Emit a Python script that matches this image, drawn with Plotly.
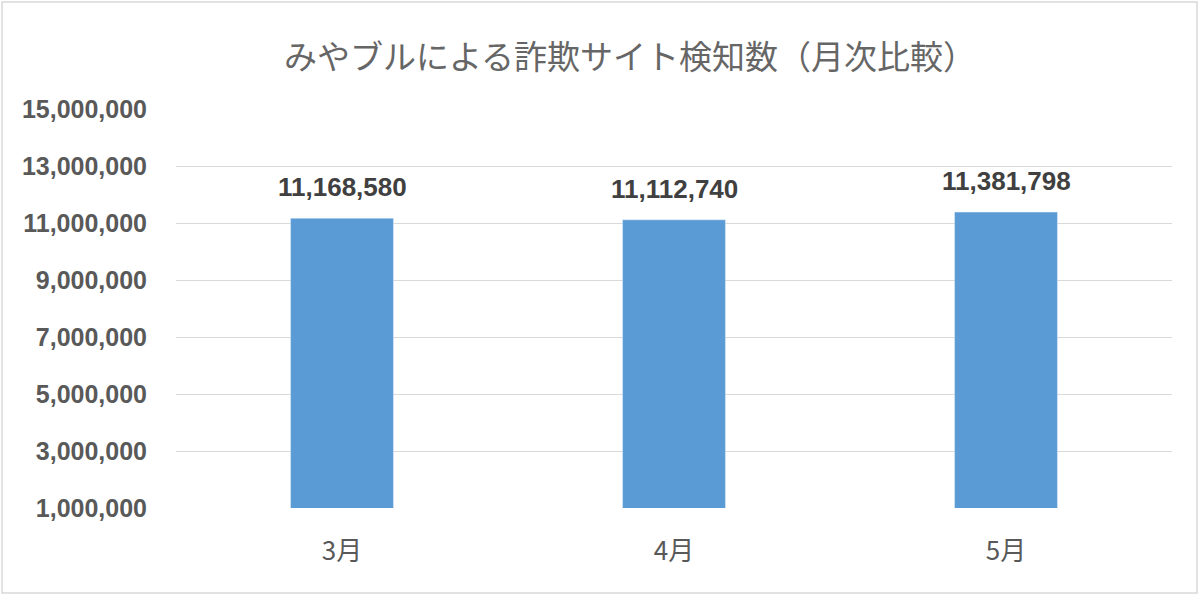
import plotly.graph_objects as go

# Monthly counts of fraud sites detected
months = ["3月", "4月", "5月"]
detections = [11168580, 11112740, 11381798]

TITLE = "みやブルによる詐欺サイト検知数（月次比較）"
FONT = "Noto Sans CJK JP"

fig = go.Figure()
fig.add_trace(go.Bar(
    x=months,
    y=detections,
    marker_color="#5B9BD5",
    width=0.31,
))

# data labels above each bar
for m, v in zip(months, detections):
    fig.add_annotation(
        x=m, y=v, text=f"{v:,}",
        showarrow=False, yanchor="bottom", yshift=14,
        font=dict(family="Liberation Sans", size=26, color="#404040", weight="bold"),
    )

fig.update_layout(
    width=1200,
    height=595,
    paper_bgcolor="white",
    plot_bgcolor="white",
    showlegend=False,
    margin=dict(l=176, r=28, t=109, b=87),
    title=dict(
        text=TITLE,
        x=0.525, xanchor="center",
        y=0.904, yanchor="middle",
        font=dict(family=FONT, size=33, color="#666666"),
    ),
    xaxis=dict(
        showgrid=False,
        showline=False,
        ticks="",
        ticklabelstandoff=25,
        tickfont=dict(family=FONT, size=26, color="#595959"),
    ),
    yaxis=dict(
        range=[1000000, 15000000],
        tick0=1000000,
        dtick=2000000,
        tickformat=",d",
        showgrid=True,
        gridcolor="#D9D9D9",
        gridwidth=1.3,
        zeroline=False,
        ticks="",
        ticklabelstandoff=28,
        tickfont=dict(family="Liberation Sans", size=25, color="#595959", weight="bold"),
    ),
    shapes=[dict(
        type="rect", xref="paper", yref="paper",
        x0=-174 / 996, x1=1 + 25 / 996, y0=-85 / 399, y1=1 + 107 / 399,
        line=dict(color="#D9D9D9", width=1.5),
    )],
)

fig.write_html("out.html", config={"displayModeBar": False},
               post_script="document.body.style.margin='0';")
